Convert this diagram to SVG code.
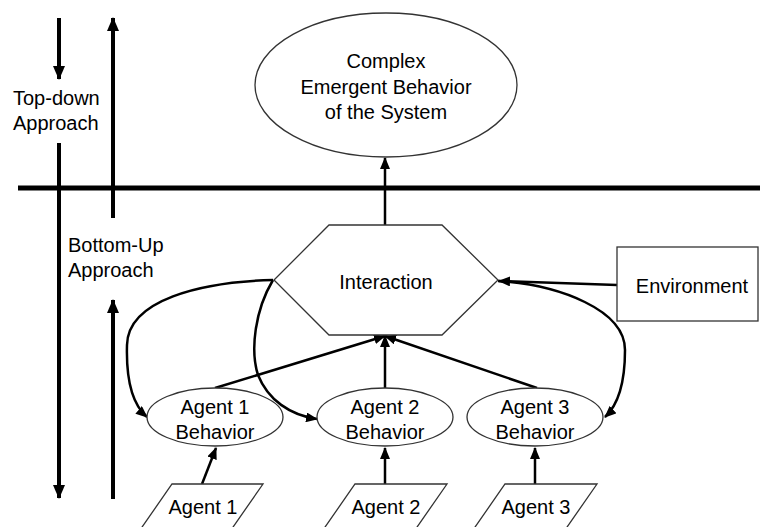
<svg xmlns="http://www.w3.org/2000/svg" width="760" height="527" viewBox="0 0 760 527">
<style>
text{font-family:"Liberation Sans",Arial,sans-serif;font-size:20px;fill:#000}
.c{text-anchor:middle}
.node{fill:#fff;stroke:#333;stroke-width:1.3}
.conn{fill:none;stroke:#000;stroke-width:2.5}
.thick{fill:none;stroke:#000;stroke-width:4}
</style>
<defs>
<marker id="ah" markerUnits="userSpaceOnUse" markerWidth="12" markerHeight="10" refX="11" refY="5" orient="auto">
<path d="M0,0 L12,5 L0,10 Z" fill="#000"/>
</marker>
<marker id="big" markerUnits="userSpaceOnUse" markerWidth="14" markerHeight="12" refX="13" refY="6" orient="auto">
<path d="M0,0 L14,6 L0,12 Z" fill="#000"/>
</marker>
</defs>
<g id="approach">
<line class="thick" x1="18" y1="188" x2="760" y2="188" style="stroke-width:5"/>
<line class="thick" x1="59" y1="18" x2="59" y2="79" marker-end="url(#big)"/>
<line class="thick" x1="59" y1="143" x2="59" y2="498" marker-end="url(#big)"/>
<line class="thick" x1="113" y1="218" x2="113" y2="18" marker-end="url(#big)"/>
<line class="thick" x1="113" y1="499" x2="113" y2="300" marker-end="url(#big)"/>
<text x="13" y="105">Top-down</text>
<text x="13" y="130">Approach</text>
<text x="68" y="252">Bottom-Up</text>
<text x="68" y="277">Approach</text>
</g>
<g id="connectors">
<line class="conn" x1="385" y1="225" x2="385" y2="158" marker-end="url(#ah)"/>
<line class="conn" x1="617" y1="285" x2="499" y2="281" marker-end="url(#ah)"/>
<path class="conn" d="M273,280 C200,282 128,300 127,345 C126,380 133,405 147,417" marker-end="url(#ah)"/>
<path class="conn" d="M273,280 C255,310 250,350 258,375 C268,400 290,415 317,419" marker-end="url(#ah)"/>
<path class="conn" d="M498,281 C560,285 625,310 625,350 C625,385 618,405 605,417" marker-end="url(#ah)"/>
<line class="conn" x1="215" y1="388" x2="385" y2="336" marker-end="url(#ah)"/>
<line class="conn" x1="385" y1="388" x2="385" y2="336" marker-end="url(#ah)"/>
<line class="conn" x1="537" y1="388" x2="385" y2="336" marker-end="url(#ah)"/>
<line class="conn" x1="202" y1="484" x2="216" y2="448" marker-end="url(#ah)"/>
<line class="conn" x1="385" y1="484" x2="385" y2="448" marker-end="url(#ah)"/>
<line class="conn" x1="535" y1="484" x2="535" y2="448" marker-end="url(#ah)"/>
</g>
<g id="emergent">
<ellipse class="node" cx="386" cy="85" rx="131" ry="72"/>
<text class="c" x="386" y="68">Complex</text>
<text class="c" x="386" y="94">Emergent Behavior</text>
<text class="c" x="386" y="119">of the System</text>
</g>
<g id="interaction">
<polygon class="node" points="329,225 442,225 498,280 442,335 329,335 274,280"/>
<text class="c" x="386" y="289">Interaction</text>
</g>
<g id="environment">
<rect class="node" x="617" y="247" width="141" height="74"/>
<text class="c" x="692" y="293">Environment</text>
</g>
<g id="agent1behavior">
<ellipse class="node" cx="215" cy="417" rx="68" ry="29"/>
<text class="c" x="215" y="414">Agent 1</text>
<text class="c" x="215" y="439">Behavior</text>
</g>
<g id="agent2behavior">
<ellipse class="node" cx="385" cy="417" rx="68" ry="29"/>
<text class="c" x="385" y="414">Agent 2</text>
<text class="c" x="385" y="439">Behavior</text>
</g>
<g id="agent3behavior">
<ellipse class="node" cx="535" cy="417" rx="68" ry="29"/>
<text class="c" x="535" y="414">Agent 3</text>
<text class="c" x="535" y="439">Behavior</text>
</g>
<g id="agent1">
<polygon class="node" points="172,484 263,484 231,530 140,530"/>
<text class="c" x="203" y="514">Agent 1</text>
</g>
<g id="agent2">
<polygon class="node" points="355,484 447,484 415,530 323,530"/>
<text class="c" x="386" y="514">Agent 2</text>
</g>
<g id="agent3">
<polygon class="node" points="505,484 597,484 565,530 473,530"/>
<text class="c" x="536" y="514">Agent 3</text>
</g>
</svg>
